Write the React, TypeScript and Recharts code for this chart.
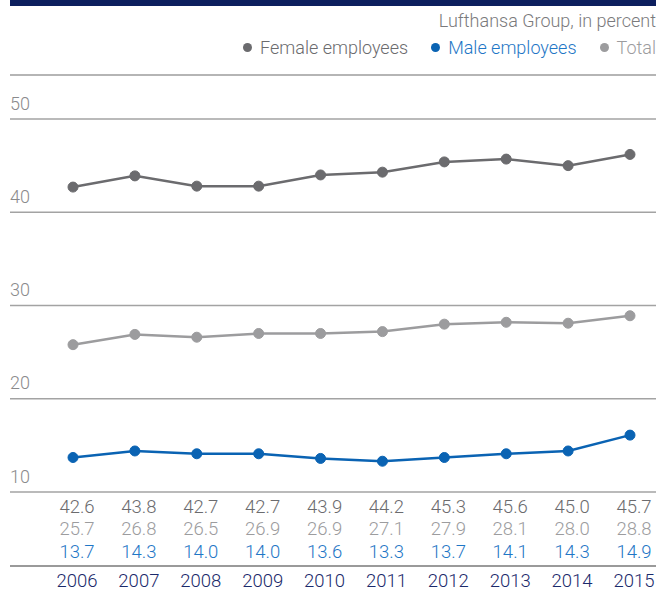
import { LineChart, Line, XAxis, YAxis, CartesianGrid } from "recharts"

const years = ["2006", "2007", "2008", "2009", "2010", "2011", "2012", "2013", "2014", "2015"]

// values printed in the table under the chart
const femaleTable = [42.6, 43.8, 42.7, 42.7, 43.9, 44.2, 45.3, 45.6, 45.0, 45.7]
const totalTable = [25.7, 26.8, 26.5, 26.9, 26.9, 27.1, 27.9, 28.1, 28.0, 28.8]
const maleTable = [13.7, 14.3, 14.0, 14.0, 13.6, 13.3, 13.7, 14.1, 14.3, 14.9]

// where the points sit on the plot (2015 differs from the table)
const femalePlotted = [42.7, 43.9, 42.8, 42.8, 44.0, 44.3, 45.4, 45.7, 45.0, 46.2]
const totalPlotted = [25.8, 26.9, 26.6, 27.0, 27.0, 27.2, 28.0, 28.2, 28.1, 28.9]
const malePlotted = [13.7, 14.4, 14.1, 14.1, 13.6, 13.3, 13.7, 14.1, 14.4, 16.1]

const yTicks = [10, 20, 30, 40, 50]

const FEMALE = "#6b6b6e"
const TOTAL = "#9c9c9e"
const MALE = "#0a63b3"
const MALE_TEXT = "#1f77c6"
const NAVY = "#1b2a6b"
const FONT = "Roboto, 'Liberation Sans', sans-serif"

const data = years.map((year, i) => ({
  year,
  female: femalePlotted[i],
  total: totalPlotted[i],
  male: malePlotted[i],
  femaleLabel: femaleTable[i].toFixed(1),
  totalLabel: totalTable[i].toFixed(1),
  maleLabel: maleTable[i].toFixed(1),
}))

const YTick = ({ y, payload }: any) => (
  <text x={10} y={y - 16} dominantBaseline="central" fill="#8a8a8c" fontSize={18} fontFamily={FONT} fontWeight={300}>
    {payload.value}
  </text>
)

const XTick = ({ x, y, index }: any) => {
  const d = data[index]
  const cx = x + 4
  const common = { textAnchor: "middle" as const, dominantBaseline: "central" as const, fontSize: 18.5, fontFamily: FONT, fontWeight: 300 }
  return (
    <g>
      <text x={cx} y={y + 15} fill={FEMALE} {...common}>{d.femaleLabel}</text>
      <text x={cx} y={y + 37} fill={TOTAL} {...common}>{d.totalLabel}</text>
      <text x={cx} y={y + 60} fill={MALE_TEXT} {...common}>{d.maleLabel}</text>
      <text x={cx} y={y + 89} fill={NAVY} {...common}>{d.year}</text>
    </g>
  )
}

const legendItems = [
  { label: "Female employees", color: FEMALE, text: "#6b6b6e" },
  { label: "Male employees", color: MALE, text: MALE_TEXT },
  { label: "Total", color: TOTAL, text: TOTAL },
]

export default function App() {
  return (
    <div style={{ position: "relative", width: 658, height: 591, background: "#fff", fontFamily: FONT }}>
      <style>{"body{margin:0}"}</style>
      <div style={{ position: "absolute", left: 10, top: 0, width: 646, height: 6, background: "#0d1f5e" }} />
      <div
        style={{
          position: "absolute",
          right: 2,
          top: 7,
          fontSize: 18,
          fontWeight: 300,
          color: "#7a7a7c",
          textAlign: "right",
          lineHeight: "27px",
        }}
      >
        <div>Lufthansa Group, in percent</div>
        <div style={{ display: "flex", justifyContent: "flex-end", alignItems: "center", gap: 23 }}>
          {legendItems.map((it) => (
            <span key={it.label} style={{ display: "flex", alignItems: "center", color: it.text }}>
              <span
                style={{ width: 9, height: 9, borderRadius: "50%", background: it.color, marginRight: 8, display: "inline-block" }}
              />
              {it.label}
            </span>
          ))}
        </div>
      </div>
      <div style={{ position: "absolute", left: 10, top: 74, width: 646, height: 1.5, background: "#b5b5b5" }} />
      <div style={{ position: "absolute", left: 10, top: 565, width: 646, height: 1.5, background: "#9a9a9a" }} />
      <div style={{ position: "absolute", left: 0, top: 0 }}>
        <LineChart width={658} height={591} data={data} margin={{ top: 119, right: 2, bottom: 0, left: 9 }}>
          <CartesianGrid horizontal vertical={false} stroke="#a3a3a3" strokeWidth={1.3} />
          <XAxis
            dataKey="year"
            axisLine={false}
            tickLine={false}
            tickSize={0}
            tickMargin={0}
            height={99}
            interval={0}
            padding={{ left: 63, right: 26 }}
            tick={<XTick />}
          />
          <YAxis
            domain={[10, 50]}
            ticks={yTicks}
            width={1}
            axisLine={false}
            tickLine={false}
            tick={<YTick />}
            interval={0}
          />
          <Line dataKey="female" stroke={FEMALE} strokeWidth={2.5} dot={{ r: 5, fill: FEMALE, stroke: FEMALE, strokeWidth: 1 }} isAnimationActive={false} />
          <Line dataKey="total" stroke={TOTAL} strokeWidth={2.5} dot={{ r: 5, fill: TOTAL, stroke: TOTAL, strokeWidth: 1 }} isAnimationActive={false} />
          <Line dataKey="male" stroke={MALE} strokeWidth={2.5} dot={{ r: 5, fill: MALE, stroke: MALE, strokeWidth: 1 }} isAnimationActive={false} />
        </LineChart>
      </div>
    </div>
  )
}
